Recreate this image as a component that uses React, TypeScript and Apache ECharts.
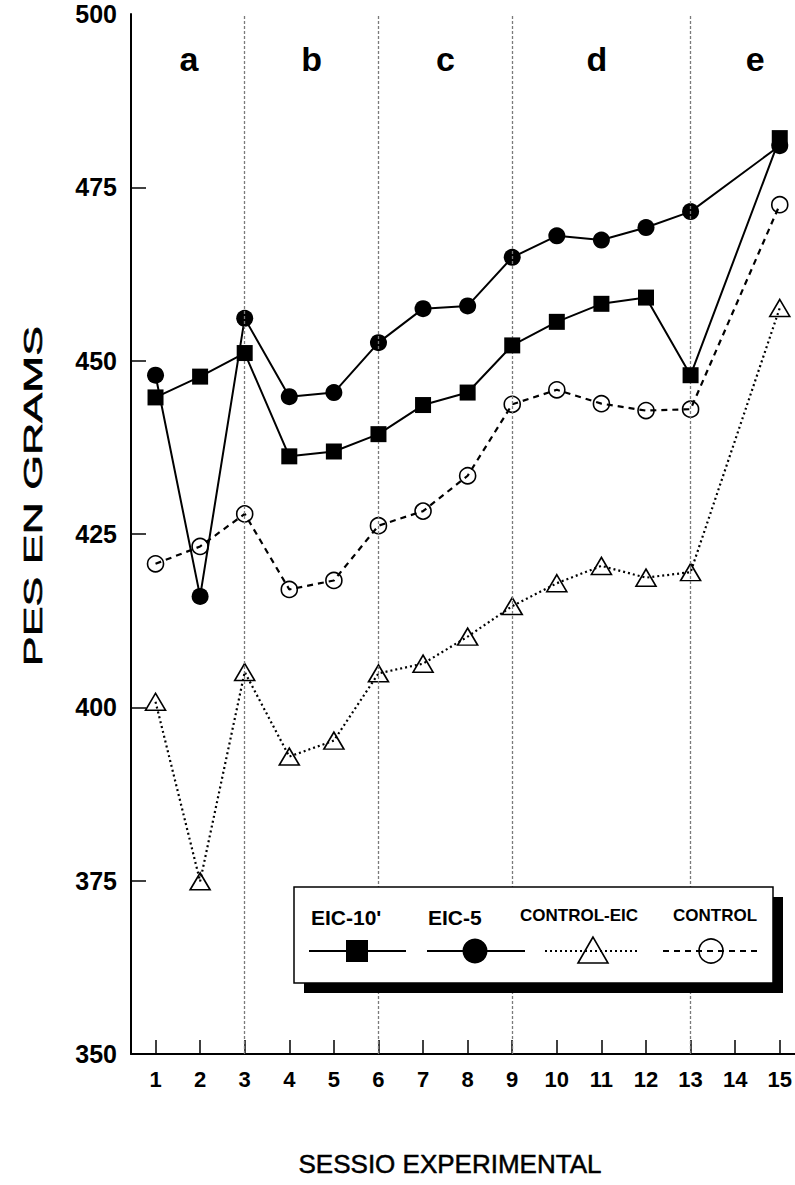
import React, { useEffect, useRef } from "react";
import * as echarts from "echarts";

const sessions = [1, 2, 3, 4, 5, 6, 7, 8, 9, 10, 11, 12, 13, 15];
const eic10 = [444.7, 447.7, 451.1, 436.2, 436.9, 439.4, 443.6, 445.4, 452.2, 455.6, 458.2, 459.1, 447.9, 482.1];
const eic5 = [447.9, 416.0, 456.1, 444.8, 445.4, 452.6, 457.5, 457.9, 464.9, 468.0, 467.4, 469.2, 471.5, 481.0];
const controlEic = [400.8, 374.9, 405.1, 392.9, 395.2, 404.9, 406.3, 410.2, 414.6, 417.9, 420.4, 418.7, 419.5, 457.6];
const control = [420.7, 423.2, 427.9, 417.0, 418.3, 426.2, 428.3, 433.4, 443.7, 445.8, 443.8, 442.8, 443.0, 472.5];

const xTicks = [1, 2, 3, 4, 5, 6, 7, 8, 9, 10, 11, 12, 13, 14, 15];
const yInnerTicks = [375, 400, 425, 450, 475];
const dividers = [3, 6, 9, 13];
const sectionLabels = ["a", "b", "c", "d", "e"];
const sectionPos = [1.75, 4.5, 7.5, 10.9, 14.45];
const sectionY = 493.5;

const legendNames = ["EIC-10'", "EIC-5", "CONTROL-EIC", "CONTROL"];

const FONT = "'Liberation Sans', Arial, Helvetica, sans-serif";
const NARROW = "'Liberation Sans Narrow', 'Arial Narrow', 'Liberation Sans', Arial, sans-serif";

function pairs(vals: number[]) {
  return sessions.map((s, i) => [s, vals[i]]);
}

export default function App() {
  const ref = useRef<HTMLDivElement>(null);
  useEffect(() => {
    if (!ref.current) return;
    const chart = echarts.init(ref.current, undefined, { renderer: "svg" });
    const legendY = 951;
    const option: any = {
      animation: false,
      backgroundColor: "#ffffff",
      grid: { left: 131, top: 14, width: 664, height: 1040, containLabel: false },
      xAxis: {
        type: "value",
        min: 0.45,
        max: 15.34,
        axisLine: { show: true, onZero: false, lineStyle: { color: "#000", width: 2 } },
        splitLine: { show: false },
        axisTick: { show: true, inside: true, length: 14, customValues: xTicks, lineStyle: { color: "#000", width: 1.5 } },
        axisLabel: {
          show: true,
          customValues: xTicks,
          margin: 14,
          fontSize: 22,
          fontWeight: "bold",
          fontFamily: NARROW,
          color: "#000",
        },
      },
      yAxis: {
        type: "value",
        min: 350,
        max: 500,
        interval: 25,
        axisLine: { show: true, lineStyle: { color: "#000", width: 2 } },
        splitLine: { show: false },
        axisTick: { show: true, inside: true, length: 15, customValues: yInnerTicks, lineStyle: { color: "#000", width: 1.5 } },
        axisLabel: {
          show: true,
          margin: 14,
          fontSize: 25,
          fontWeight: "bold",
          fontFamily: FONT,
          color: "#000",
        },
      },
      series: [
        {
          name: legendNames[3],
          type: "line",
          data: pairs(control),
          symbol: "circle",
          symbolSize: 16,
          lineStyle: { color: "#000", width: 2.2, type: [6, 5] },
          itemStyle: { color: "rgba(255,255,255,0)", borderColor: "#000", borderWidth: 1.6 },
          markLine: {
            silent: true,
            symbol: ["none", "none"],
            label: { show: false },
            lineStyle: { color: "#7a7a7a", type: [3, 2], width: 1.3 },
            data: dividers.map((v) => ({ xAxis: v })),
          },
          z: 2,
        },
        {
          name: legendNames[2],
          type: "line",
          data: pairs(controlEic),
          symbol: "triangle",
          symbolSize: [20, 17],
          lineStyle: { color: "#000", width: 2.2, type: [2, 3] },
          itemStyle: { color: "rgba(255,255,255,0)", borderColor: "#000", borderWidth: 1.6 },
          z: 3,
        },
        {
          name: legendNames[1],
          type: "line",
          data: pairs(eic5),
          symbol: "circle",
          symbolSize: 17,
          lineStyle: { color: "#000", width: 2 },
          itemStyle: { color: "#000" },
          z: 4,
        },
        {
          name: legendNames[0],
          type: "line",
          data: pairs(eic10),
          symbol: "rect",
          symbolSize: 16,
          lineStyle: { color: "#000", width: 2 },
          itemStyle: { color: "#000" },
          z: 5,
        },
        {
          name: "sections",
          type: "scatter",
          silent: true,
          data: sectionPos.map((x, i) => [x, sectionY, sectionLabels[i]]),
          symbolSize: 1,
          itemStyle: { color: "#ffffff" },
          label: {
            show: true,
            position: "inside",
            formatter: (p: any) => p.data[2],
            fontSize: 34,
            fontWeight: "bold",
            fontFamily: FONT,
            color: "#000000",
            opacity: 1,
            textBorderWidth: 0,
            textBorderColor: "transparent",
          },
          z: 6,
        },
      ],
      graphic: [
        {
          type: "text",
          x: 33,
          y: 496,
          rotation: Math.PI / 2,
          scaleX: 1.72,
          z: 100,
          style: {
            text: "PES EN GRAMS",
            font: `26px ${FONT}`,
            fill: "#000",
            stroke: "#000",
            lineWidth: 0.6,
            textAlign: "center",
            textVerticalAlign: "middle",
          },
        },
        {
          type: "text",
          x: 450,
          y: 1164,
          z: 100,
          style: {
            text: "SESSIO EXPERIMENTAL",
            font: `26px ${FONT}`,
            fill: "#000",
            stroke: "#000",
            lineWidth: 0.5,
            textAlign: "center",
            textVerticalAlign: "middle",
          },
        },
        { type: "rect", z: 100, shape: { x: 304, y: 897, width: 479, height: 96 }, style: { fill: "#000" } },
        {
          type: "rect",
          z: 101,
          shape: { x: 294, y: 887, width: 479, height: 96 },
          style: { fill: "#fff", stroke: "#000", lineWidth: 1.5 },
        },
        {
          type: "text", z: 102, x: 311, y: 917,
          style: { text: legendNames[0], font: `bold 21px ${FONT}`, fill: "#000", textVerticalAlign: "middle" },
        },
        {
          type: "text", z: 102, x: 428, y: 917,
          style: { text: legendNames[1], font: `bold 21px ${FONT}`, fill: "#000", textVerticalAlign: "middle" },
        },
        {
          type: "text", z: 102, x: 520, y: 915,
          style: { text: legendNames[2], font: `bold 17px ${FONT}`, fill: "#000", textVerticalAlign: "middle" },
        },
        {
          type: "text", z: 102, x: 673, y: 915,
          style: { text: legendNames[3], font: `bold 17px ${FONT}`, fill: "#000", textVerticalAlign: "middle" },
        },
        { type: "line", z: 102, shape: { x1: 309, y1: legendY, x2: 406, y2: legendY }, style: { stroke: "#000", lineWidth: 2 } },
        { type: "rect", z: 103, shape: { x: 346, y: legendY - 11, width: 22, height: 22 }, style: { fill: "#000" } },
        { type: "line", z: 102, shape: { x1: 427, y1: legendY, x2: 525, y2: legendY }, style: { stroke: "#000", lineWidth: 2 } },
        { type: "circle", z: 103, shape: { cx: 475, cy: legendY, r: 12.5 }, style: { fill: "#000" } },
        {
          type: "line", z: 102, shape: { x1: 545, y1: legendY, x2: 639, y2: legendY },
          style: { stroke: "#000", lineWidth: 2, lineDash: [2, 3] },
        },
        {
          type: "polygon", z: 103,
          shape: { points: [[593, legendY - 14], [578, legendY + 12], [608, legendY + 12]] },
          style: { fill: "none", stroke: "#000", lineWidth: 1.6 },
        },
        {
          type: "line", z: 102, shape: { x1: 663, y1: legendY, x2: 760, y2: legendY },
          style: { stroke: "#000", lineWidth: 2, lineDash: [6, 5] },
        },
        {
          type: "circle", z: 103, shape: { cx: 711, cy: legendY, r: 12 },
          style: { fill: "none", stroke: "#000", lineWidth: 1.6 },
        },
      ],
    };
    chart.setOption(option);
    return () => chart.dispose();
  }, []);
  return (
    <div
      ref={ref}
      style={{ position: "fixed", left: 0, top: 0, width: 795, height: 1185, background: "#fff" }}
    />
  );
}
